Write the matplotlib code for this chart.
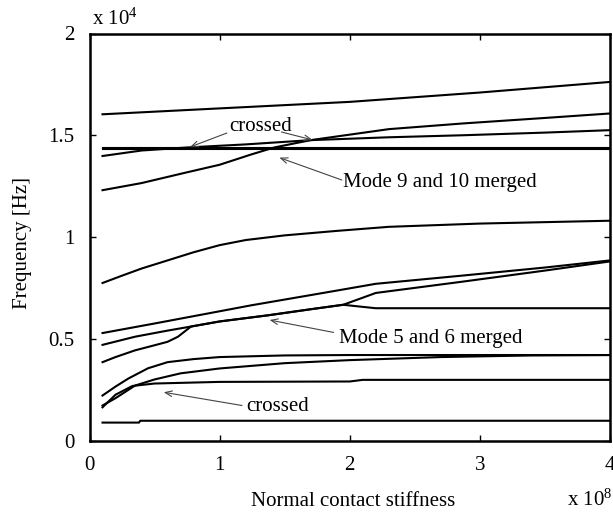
import matplotlib
matplotlib.use("Agg")
import matplotlib.pyplot as plt

plt.rcParams['font.family'] = ['Liberation Serif', 'DejaVu Serif']
plt.rcParams['mathtext.fontset'] = 'custom'
plt.rcParams['mathtext.rm'] = 'Liberation Serif'
plt.rcParams['mathtext.it'] = 'Liberation Serif:italic'

# ---- data (x in 1e8, frequency in 1e4 Hz) ----
m1_x = [0.1, 0.38, 0.39, 4.0]
m1_y = [0.088, 0.088, 0.097, 0.097]

m2_x = [0.1, 0.2, 0.33, 0.5, 1.0, 2.0, 2.1, 4.0]
m2_y = [0.163, 0.225, 0.268, 0.28, 0.288, 0.29, 0.298, 0.298]

m3_x = [0.1, 0.2, 0.35, 0.5, 0.7, 1.0, 1.5, 2.0, 2.7, 3.4, 4.0]
m3_y = [0.172, 0.208, 0.27, 0.30, 0.33, 0.354, 0.38, 0.395, 0.41, 0.418, 0.42]

m4_x = [0.1, 0.2, 0.3, 0.45, 0.6, 0.8, 1.0, 1.5, 2.0, 3.0, 4.0]
m4_y = [0.221, 0.265, 0.305, 0.355, 0.385, 0.40, 0.41, 0.418, 0.42, 0.42, 0.42]

m5_x = [0.1, 0.2, 0.35, 0.5, 0.6, 0.68, 0.74, 0.78, 1.0, 1.37, 1.7, 1.95, 2.05, 2.2, 4.0]
m5_y = [0.385, 0.41, 0.443, 0.468, 0.485, 0.51, 0.54, 0.56, 0.585, 0.615, 0.645, 0.667, 0.66, 0.65, 0.65]

m6_x = [0.1, 0.35, 0.6, 0.78, 1.0, 1.37, 1.7, 1.95, 2.2, 2.86, 3.5, 4.0]
m6_y = [0.47, 0.51, 0.54, 0.56, 0.585, 0.615, 0.645, 0.667, 0.725, 0.78, 0.835, 0.88]

m7_x = [0.1, 0.5, 1.0, 1.24, 1.84, 2.2, 2.86, 3.5, 4.0]
m7_y = [0.528, 0.575, 0.635, 0.664, 0.73, 0.77, 0.81, 0.85, 0.885]

m8_x = [0.1, 0.25, 0.4, 0.6, 0.8, 1.0, 1.2, 1.5, 1.9, 2.3, 3.0, 3.5, 4.0]
m8_y = [0.774, 0.81, 0.845, 0.885, 0.925, 0.96, 0.985, 1.008, 1.03, 1.05, 1.066, 1.073, 1.08]

m9_x = [0.1, 0.4, 0.73, 1.0, 1.24, 1.42, 1.7, 2.3, 2.87, 3.5, 4.0]
m9_y = [1.23, 1.265, 1.315, 1.355, 1.405, 1.44, 1.476, 1.53, 1.558, 1.585, 1.607]

m10_x = [0.1, 4.0]
m10_y = [1.433, 1.433]

m11_x = [0.1, 4.0]
m11_y = [1.439, 1.439]

m12_x = [0.1, 0.4, 0.75, 1.2, 1.7, 2.3, 2.87, 3.5, 4.0]
m12_y = [1.398, 1.425, 1.44, 1.455, 1.476, 1.49, 1.50, 1.513, 1.525]

m13_x = [0.1, 1.0, 2.0, 3.0, 4.0]
m13_y = [1.603, 1.632, 1.664, 1.71, 1.762]

modes = [(m1_x, m1_y), (m2_x, m2_y), (m3_x, m3_y), (m4_x, m4_y),
         (m5_x, m5_y), (m6_x, m6_y), (m7_x, m7_y), (m8_x, m8_y),
         (m9_x, m9_y), (m10_x, m10_y), (m11_x, m11_y), (m12_x, m12_y),
         (m13_x, m13_y)]

x_ticks = [0, 1, 2, 3, 4]
x_tick_labels = ['0', '1', '2', '3', '4']
y_ticks = [0, 0.5, 1, 1.5, 2]
y_tick_labels = ['0', '0.5', '1', '1.5', '2']

W, H = 613, 512
fig = plt.figure(figsize=(W / 100, H / 100), dpi=100)
ax = fig.add_axes([89.5 / W, (H - 440.5) / H, (610 - 89.5) / W, (440.5 - 33.5) / H])

for xs, ys in modes:
    ax.plot(xs, ys, color='black', lw=1.5, solid_joinstyle='round')

ax.set_xlim(0, 4)
ax.set_ylim(0, 2)
ax.set_xticks(x_ticks)
ax.set_xticklabels(x_tick_labels)
ax.set_yticks(y_ticks)
ax.set_yticklabels(y_tick_labels)
ax.tick_params(direction='in', top=True, right=True, length=4, width=1.0,
               labelsize=15)
ax.tick_params(axis='x', pad=11)
ax.tick_params(axis='y', pad=11)
for s in ax.spines.values():
    s.set_linewidth(1.8)

ap = dict(arrowstyle='->,head_length=0.5,head_width=0.2', lw=0.8, color='#444444',
          shrinkA=0, shrinkB=0)
fs = 15
ax.text(1.317, 1.521, 'crossed', fontsize=fs, ha='center', va='baseline')
ax.annotate('', xy=(0.772, 1.442), xytext=(1.056, 1.511), arrowprops=ap)
ax.annotate('', xy=(1.714, 1.477), xytext=(1.475, 1.516), arrowprops=ap)

ax.text(1.947, 1.247, 'Mode 9 and 10 merged', fontsize=fs, ha='left', va='baseline')
ax.annotate('', xy=(1.459, 1.39), xytext=(1.939, 1.28), arrowprops=ap)

ax.text(1.916, 0.481, 'Mode 5 and 6 merged', fontsize=fs, ha='left', va='baseline')
ax.annotate('', xy=(1.384, 0.592), xytext=(1.876, 0.531), arrowprops=ap)

ax.text(1.202, 0.146, 'crossed', fontsize=fs, ha='left', va='baseline')
ax.annotate('', xy=(0.57, 0.237), xytext=(1.172, 0.172), arrowprops=ap)

fig.text(92 / W, (H - 24.5) / H, r'x 10$^{4}$', fontsize=15, ha='left', va='baseline')
fig.text(567 / W, (H - 505.5) / H, r'x 10$^{8}$', fontsize=15, ha='left', va='baseline')
fig.text(353.5 / W, (H - 505.5) / H, 'Normal contact stiffness', fontsize=15,
         ha='center', va='baseline')
fig.text(23 / W, (H - 243) / H, 'Frequency [Hz]', fontsize=15, rotation=90,
         ha='center', va='center')

fig.savefig('out.png', dpi=100)
